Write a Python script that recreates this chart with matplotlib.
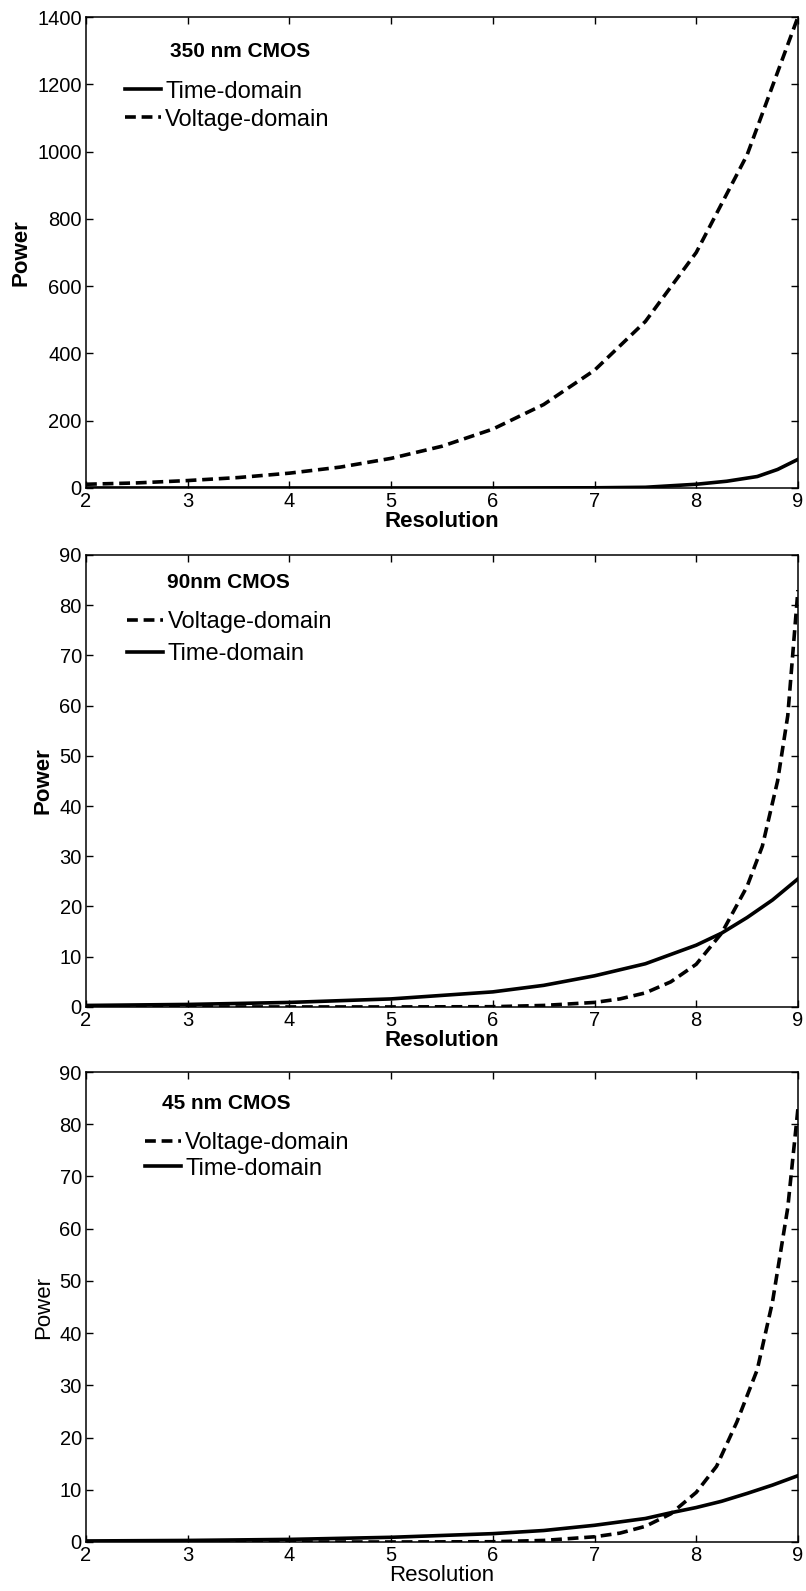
import matplotlib
matplotlib.use("Agg")
import matplotlib.pyplot as plt

plt.rcParams['font.family'] = ['Liberation Sans', 'DejaVu Sans']

# panel 1: 350 nm CMOS
res_v1 = [2, 2.5, 3, 3.5, 4, 4.5, 5, 5.5, 6, 6.5, 7, 7.5, 8, 8.5, 9]
volt_1 = [11, 15, 22, 31, 44, 62, 88, 124, 175, 248, 350, 495, 700, 990, 1400]
res_t1 = [2, 3, 4, 5, 6, 7, 7.5, 8, 8.3, 8.6, 8.8, 9]
time_1 = [0, 0, 0, 0, 0, 0.5, 2, 11, 20, 34, 55, 85]

# panel 2: 90nm CMOS
res_v2 = [2, 3, 4, 5, 6, 6.5, 7, 7.25, 7.5, 7.75, 8, 8.25, 8.5, 8.65, 8.8, 8.9, 9]
volt_2 = [0, 0, 0, 0, 0.05, 0.3, 0.9, 1.6, 2.8, 5, 8.5, 14.7, 24, 32, 45, 58, 83]
res_t2 = [2, 3, 4, 5, 6, 6.5, 7, 7.5, 8, 8.25, 8.5, 8.75, 9]
time_2 = [0.3, 0.5, 0.9, 1.6, 3.0, 4.3, 6.2, 8.6, 12.3, 14.7, 17.8, 21.3, 25.5]

# panel 3: 45 nm CMOS
res_v3 = [2, 3, 4, 5, 6, 6.5, 7, 7.25, 7.5, 7.75, 8, 8.2, 8.4, 8.6, 8.75, 8.9, 9]
volt_3 = [0, 0, 0, 0, 0.05, 0.3, 1.0, 1.7, 3.0, 5.4, 9.5, 14.5, 23, 33, 46, 64, 83]
res_t3 = [2, 3, 4, 5, 6, 6.5, 7, 7.5, 7.75, 8, 8.25, 8.5, 8.75, 9]
time_3 = [0.2, 0.3, 0.5, 0.9, 1.6, 2.2, 3.2, 4.5, 5.6, 6.6, 7.8, 9.3, 10.9, 12.7]

x_ticks = [2, 3, 4, 5, 6, 7, 8, 9]

fig = plt.figure(figsize=(8.06, 15.91), dpi=100)
left, width = 0.1067, 0.8833
ax1 = fig.add_axes([left, 0.6933, width, 0.2960])
ax2 = fig.add_axes([left, 0.3671, width, 0.2841])
ax3 = fig.add_axes([left, 0.0308, width, 0.2954])

LW = 2.6
DASH = (3, 1.6)


def style(ax, ylim, yticks, bold):
    ax.set_xlim(2, 9)
    ax.set_ylim(*ylim)
    ax.set_xticks(x_ticks)
    ax.set_yticks(yticks)
    ax.tick_params(direction='in', top=True, right=True, length=5, width=1,
                   labelsize=14.5, pad=3)
    for s in ax.spines.values():
        s.set_linewidth(1.1)
    w = 'bold' if bold else 'normal'
    ax.set_xlabel('Resolution', fontsize=16, fontweight=w, labelpad=0)
    ax.set_ylabel('Power', fontsize=16, fontweight=w, labelpad=4)


# 350 nm
l_t, = ax1.plot(res_t1, time_1, 'k-', lw=LW, label='Time-domain')
l_v, = ax1.plot(res_v1, volt_1, 'k--', lw=LW, dashes=DASH, label='Voltage-domain')
style(ax1, (0, 1400), range(0, 1401, 200), True)
ax1.text(0.118, 0.926, '350 nm CMOS', transform=ax1.transAxes, fontsize=15,
         fontweight='bold', va='center', ha='left')
ax1.legend(handles=[l_t, l_v], loc='upper left', bbox_to_anchor=(0.055, 0.865),
           frameon=False, fontsize=17, handlelength=1.5, handletextpad=0.2,
           labelspacing=0.25, borderpad=0, borderaxespad=0)

# 90nm
l_v, = ax2.plot(res_v2, volt_2, 'k--', lw=LW, dashes=DASH, label='Voltage-domain')
l_t, = ax2.plot(res_t2, time_2, 'k-', lw=LW, label='Time-domain')
style(ax2, (0, 90), range(0, 91, 10), True)
ax2.text(0.114, 0.938, '90nm CMOS', transform=ax2.transAxes, fontsize=15,
         fontweight='bold', va='center', ha='left')
ax2.legend(handles=[l_v, l_t], loc='upper left', bbox_to_anchor=(0.058, 0.875),
           frameon=False, fontsize=17, handlelength=1.5, handletextpad=0.2,
           labelspacing=0.4, borderpad=0, borderaxespad=0)

# 45 nm
l_v, = ax3.plot(res_v3, volt_3, 'k--', lw=LW, dashes=DASH, label='Voltage-domain')
l_t, = ax3.plot(res_t3, time_3, 'k-', lw=LW, label='Time-domain')
style(ax3, (0, 90), range(0, 91, 10), False)
ax3.text(0.107, 0.934, '45 nm CMOS', transform=ax3.transAxes, fontsize=15,
         fontweight='bold', va='center', ha='left')
ax3.legend(handles=[l_v, l_t], loc='upper left', bbox_to_anchor=(0.083, 0.872),
           frameon=False, fontsize=17, handlelength=1.5, handletextpad=0.2,
           labelspacing=0.15, borderpad=0, borderaxespad=0)

fig.savefig('out.png', dpi=100)
